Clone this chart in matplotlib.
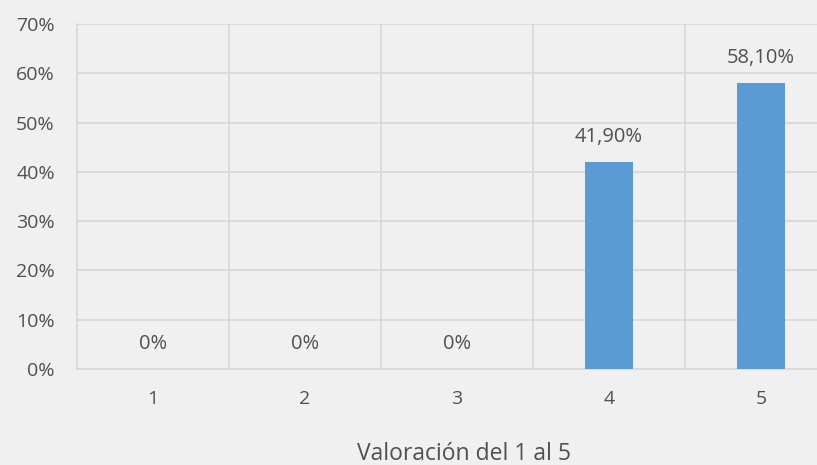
import matplotlib.pyplot as plt
from matplotlib.ticker import MultipleLocator, FuncFormatter

plt.rcParams['font.family'] = ['Open Sans', 'DejaVu Sans']

# Datos
categorias = ["1", "2", "3", "4", "5"]
porcentajes = [0, 0, 0, 41.9, 58.1]
etiquetas = ["0%", "0%", "0%", "41,90%", "58,10%"]

fondo = "#f0f0f0"
color_barra = "#5b9bd5"
color_texto = "#505050"
color_grid = "#d9d9d9"

fig = plt.figure(figsize=(8.17, 4.65), dpi=100, facecolor=fondo)
ax = fig.add_axes([77 / 817, 96 / 465, 740 / 817, 345 / 465])
ax.set_facecolor(fondo)

x = list(range(len(categorias)))
ax.bar(x, porcentajes, width=0.31, color=color_barra, zorder=3)

for xi, v, txt in zip(x, porcentajes, etiquetas):
    ax.annotate(txt, (xi, v), xytext=(0, 18), textcoords="offset points",
                ha="center", va="center", fontsize=14.5, color=color_texto)

ax.set_ylim(0, 70)
ax.set_xlim(-0.5, (817 - 153) / 152)
ax.yaxis.set_major_locator(MultipleLocator(10))
ax.yaxis.set_major_formatter(FuncFormatter(lambda v, p: f"{v:.0f}%"))
ax.set_xticks(x)
ax.set_xticklabels(categorias)

# Líneas de la cuadrícula
ax.grid(axis="y", color=color_grid, linewidth=1.3, zorder=0)
for b in [0.5, 1.5, 2.5, 3.5]:
    ax.axvline(b, color=color_grid, linewidth=1.3, zorder=0)

for lado in ["top", "right"]:
    ax.spines[lado].set_visible(False)
ax.spines["left"].set_color(color_grid)
ax.spines["left"].set_linewidth(1.3)
ax.spines["bottom"].set_color(color_grid)
ax.spines["bottom"].set_linewidth(1.3)

ax.tick_params(length=0, labelsize=14, labelcolor=color_texto)
ax.tick_params(axis="x", pad=15)
ax.tick_params(axis="y", pad=16)

fig.text(464 / 817, 11 / 465, "Valoración del 1 al 5", ha="center", va="center",
         fontsize=16.5, color=color_texto)

fig.savefig("out.png", dpi=100, facecolor=fondo)
